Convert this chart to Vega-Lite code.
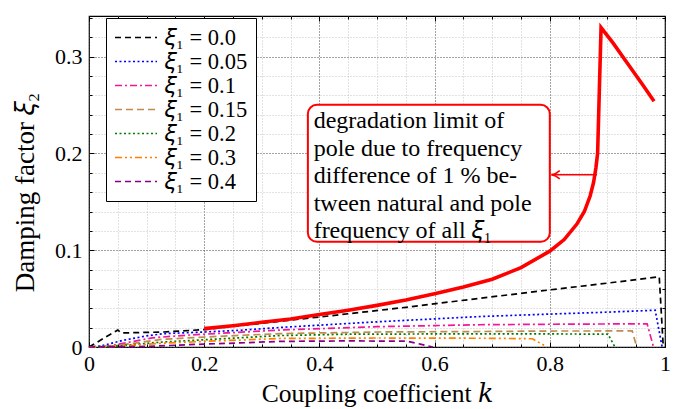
{
  "$schema": "https://vega.github.io/schema/vega-lite/v6.json",
  "autosize": "none",
  "width": 576,
  "height": 331,
  "padding": {"left": 89, "top": 16, "right": 21, "bottom": 62},
  "background": "white",
  "view": {"stroke": "black", "strokeWidth": 1.2},
  "config": {
    "font": "Liberation Serif, DejaVu Serif, serif",
    "axis": {"labelFont": "Liberation Serif, DejaVu Serif, serif", "titleFont": "Liberation Serif, DejaVu Serif, serif", "labelColor": "black", "titleColor": "black", "titleFontWeight": "normal", "tickColor": "black"},
    "legend": {
      "orient": "none", "legendX": 17, "legendY": 2,
      "strokeColor": "black", "fillColor": "white", "padding": 8,
      "labelFont": "Liberation Serif, DejaVu Serif, serif", "labelFontSize": 22.5, "labelColor": "black",
      "symbolSize": 441, "symbolStrokeWidth": 1.6,
      "rowPadding": 1, "labelOffset": 28, "title": null, "cornerRadius": 0
    }
  },
  "datasets": {
    "curves": [
      {"s": "𝜉₁ = 0.0", "x": 0.0, "y": 0.0},
      {"s": "𝜉₁ = 0.0", "x": 0.05, "y": 0.0176},
      {"s": "𝜉₁ = 0.0", "x": 0.056, "y": 0.0145},
      {"s": "𝜉₁ = 0.0", "x": 0.13, "y": 0.0155},
      {"s": "𝜉₁ = 0.0", "x": 0.2, "y": 0.018},
      {"s": "𝜉₁ = 0.0", "x": 0.3, "y": 0.0245},
      {"s": "𝜉₁ = 0.0", "x": 0.43, "y": 0.033},
      {"s": "𝜉₁ = 0.0", "x": 0.55, "y": 0.041},
      {"s": "𝜉₁ = 0.0", "x": 0.66, "y": 0.049},
      {"s": "𝜉₁ = 0.0", "x": 0.8, "y": 0.059},
      {"s": "𝜉₁ = 0.0", "x": 0.9, "y": 0.066},
      {"s": "𝜉₁ = 0.0", "x": 0.99, "y": 0.0725},
      {"s": "𝜉₁ = 0.0", "x": 0.997, "y": 0.0},
      {"s": "𝜉₁ = 0.05", "x": 0.0, "y": 0.0},
      {"s": "𝜉₁ = 0.05", "x": 0.02, "y": 0.001},
      {"s": "𝜉₁ = 0.05", "x": 0.06, "y": 0.007},
      {"s": "𝜉₁ = 0.05", "x": 0.1, "y": 0.0115},
      {"s": "𝜉₁ = 0.05", "x": 0.13, "y": 0.0138},
      {"s": "𝜉₁ = 0.05", "x": 0.2, "y": 0.0155},
      {"s": "𝜉₁ = 0.05", "x": 0.26, "y": 0.0172},
      {"s": "𝜉₁ = 0.05", "x": 0.34, "y": 0.0205},
      {"s": "𝜉₁ = 0.05", "x": 0.5, "y": 0.026},
      {"s": "𝜉₁ = 0.05", "x": 0.68, "y": 0.0315},
      {"s": "𝜉₁ = 0.05", "x": 0.8, "y": 0.034},
      {"s": "𝜉₁ = 0.05", "x": 0.9, "y": 0.036},
      {"s": "𝜉₁ = 0.05", "x": 0.983, "y": 0.038},
      {"s": "𝜉₁ = 0.05", "x": 0.995, "y": 0.0},
      {"s": "𝜉₁ = 0.1", "x": 0.0, "y": 0.0},
      {"s": "𝜉₁ = 0.1", "x": 0.033, "y": 0.001},
      {"s": "𝜉₁ = 0.1", "x": 0.07, "y": 0.005},
      {"s": "𝜉₁ = 0.1", "x": 0.11, "y": 0.0095},
      {"s": "𝜉₁ = 0.1", "x": 0.17, "y": 0.0122},
      {"s": "𝜉₁ = 0.1", "x": 0.24, "y": 0.0145},
      {"s": "𝜉₁ = 0.1", "x": 0.33, "y": 0.0175},
      {"s": "𝜉₁ = 0.1", "x": 0.5, "y": 0.021},
      {"s": "𝜉₁ = 0.1", "x": 0.68, "y": 0.023},
      {"s": "𝜉₁ = 0.1", "x": 0.8, "y": 0.0235},
      {"s": "𝜉₁ = 0.1", "x": 0.9, "y": 0.0238},
      {"s": "𝜉₁ = 0.1", "x": 0.969, "y": 0.024},
      {"s": "𝜉₁ = 0.1", "x": 0.98, "y": 0.0},
      {"s": "𝜉₁ = 0.15", "x": 0.0, "y": 0.0},
      {"s": "𝜉₁ = 0.15", "x": 0.042, "y": 0.001},
      {"s": "𝜉₁ = 0.15", "x": 0.08, "y": 0.004},
      {"s": "𝜉₁ = 0.15", "x": 0.125, "y": 0.0078},
      {"s": "𝜉₁ = 0.15", "x": 0.2, "y": 0.0103},
      {"s": "𝜉₁ = 0.15", "x": 0.262, "y": 0.012},
      {"s": "𝜉₁ = 0.15", "x": 0.33, "y": 0.0138},
      {"s": "𝜉₁ = 0.15", "x": 0.5, "y": 0.0155},
      {"s": "𝜉₁ = 0.15", "x": 0.68, "y": 0.016},
      {"s": "𝜉₁ = 0.15", "x": 0.8, "y": 0.0165},
      {"s": "𝜉₁ = 0.15", "x": 0.943, "y": 0.0166},
      {"s": "𝜉₁ = 0.15", "x": 0.951, "y": 0.0},
      {"s": "𝜉₁ = 0.2", "x": 0.0, "y": 0.0},
      {"s": "𝜉₁ = 0.2", "x": 0.05, "y": 0.001},
      {"s": "𝜉₁ = 0.2", "x": 0.123, "y": 0.005},
      {"s": "𝜉₁ = 0.2", "x": 0.2, "y": 0.0075},
      {"s": "𝜉₁ = 0.2", "x": 0.262, "y": 0.0095},
      {"s": "𝜉₁ = 0.2", "x": 0.33, "y": 0.0118},
      {"s": "𝜉₁ = 0.2", "x": 0.45, "y": 0.0132},
      {"s": "𝜉₁ = 0.2", "x": 0.6, "y": 0.0135},
      {"s": "𝜉₁ = 0.2", "x": 0.8, "y": 0.0135},
      {"s": "𝜉₁ = 0.2", "x": 0.901, "y": 0.0133},
      {"s": "𝜉₁ = 0.2", "x": 0.913, "y": 0.0},
      {"s": "𝜉₁ = 0.3", "x": 0.0, "y": 0.0},
      {"s": "𝜉₁ = 0.3", "x": 0.05, "y": 0.0007},
      {"s": "𝜉₁ = 0.3", "x": 0.13, "y": 0.004},
      {"s": "𝜉₁ = 0.3", "x": 0.2, "y": 0.0058},
      {"s": "𝜉₁ = 0.3", "x": 0.262, "y": 0.0072},
      {"s": "𝜉₁ = 0.3", "x": 0.33, "y": 0.0088},
      {"s": "𝜉₁ = 0.3", "x": 0.5, "y": 0.0093},
      {"s": "𝜉₁ = 0.3", "x": 0.7, "y": 0.009},
      {"s": "𝜉₁ = 0.3", "x": 0.77, "y": 0.0085},
      {"s": "𝜉₁ = 0.3", "x": 0.795, "y": 0.0},
      {"s": "𝜉₁ = 0.4", "x": 0.0, "y": 0.0},
      {"s": "𝜉₁ = 0.4", "x": 0.1, "y": 0.0006},
      {"s": "𝜉₁ = 0.4", "x": 0.2, "y": 0.003},
      {"s": "𝜉₁ = 0.4", "x": 0.262, "y": 0.0042},
      {"s": "𝜉₁ = 0.4", "x": 0.33, "y": 0.0058},
      {"s": "𝜉₁ = 0.4", "x": 0.45, "y": 0.0063},
      {"s": "𝜉₁ = 0.4", "x": 0.552, "y": 0.006},
      {"s": "𝜉₁ = 0.4", "x": 0.575, "y": 0.003},
      {"s": "𝜉₁ = 0.4", "x": 0.597, "y": 0.0}
    ],
    "limit": [
      {"x": 0.2, "y": 0.019},
      {"x": 0.25, "y": 0.022},
      {"x": 0.3, "y": 0.0255},
      {"x": 0.35, "y": 0.029},
      {"x": 0.4, "y": 0.0335},
      {"x": 0.45, "y": 0.038},
      {"x": 0.5, "y": 0.043},
      {"x": 0.55, "y": 0.0485},
      {"x": 0.6, "y": 0.055},
      {"x": 0.65, "y": 0.062},
      {"x": 0.7, "y": 0.07},
      {"x": 0.75, "y": 0.082},
      {"x": 0.8, "y": 0.099},
      {"x": 0.825, "y": 0.111},
      {"x": 0.847, "y": 0.127},
      {"x": 0.86, "y": 0.14},
      {"x": 0.87, "y": 0.156},
      {"x": 0.876, "y": 0.17},
      {"x": 0.88, "y": 0.185},
      {"x": 0.883, "y": 0.2},
      {"x": 0.889, "y": 0.33},
      {"x": 0.91, "y": 0.314},
      {"x": 0.935, "y": 0.293},
      {"x": 0.96, "y": 0.272},
      {"x": 0.981, "y": 0.254}
    ],
    "box": [{"x1": 0.38, "x2": 0.8, "y1": 0.1087, "y2": 0.2502}],
    "note": [{"x": 0.39, "y": 0.2458, "t": "degradation limit of\npole due to frequency\ndifference of 1 % be-\ntween natural and pole\nfrequency of all 𝜉₁"}],
    "arrow": [{"x1": 0.803, "x2": 0.882, "y": 0.178}],
    "head": [{"x": 0.81, "y": 0.178}]
  },
  "data": {"name": "curves"},
  "resolve": {"axis": {"x": "independent", "y": "independent"}},
  "layer": [
    {
      "mark": {"type": "point", "opacity": 0},
      "encoding": {
        "x": {"field": "x", "type": "quantitative", "scale": {"domain": [0, 1], "nice": false, "zero": false},
          "axis": {"orient": "bottom", "values": [0.05, 0.1, 0.15, 0.25, 0.3, 0.35, 0.45, 0.5, 0.55, 0.65, 0.7, 0.75, 0.85, 0.9, 0.95], "grid": true, "gridColor": "#c4c4c4", "gridDash": [1, 2], "gridWidth": 1, "ticks": true, "tickSize": -3, "labels": false, "domain": false, "title": null, "zindex": 0}},
        "y": {"field": "y", "type": "quantitative", "scale": {"domain": [0, 0.342], "nice": false, "zero": false},
          "axis": {"orient": "left", "values": [0.02, 0.04, 0.06, 0.08, 0.12, 0.14, 0.16, 0.18, 0.22, 0.24, 0.26, 0.28, 0.32, 0.34], "grid": true, "gridColor": "#c4c4c4", "gridDash": [1, 2], "gridWidth": 1, "ticks": true, "tickSize": -3, "labels": false, "domain": false, "title": null, "zindex": 0}}
      }
    },
    {
      "mark": {"type": "point", "opacity": 0},
      "encoding": {
        "x": {"field": "x", "type": "quantitative",
          "axis": {"orient": "bottom", "values": [0, 0.2, 0.4, 0.6, 0.8, 1], "format": "~g", "grid": true, "gridColor": "#444444", "gridDash": [1, 2], "gridWidth": 1, "ticks": true, "tickSize": -5, "labelPadding": 11, "labelFontSize": 22, "labelFlush": false, "domain": false, "title": "Coupling coefficient 𝑘", "titleFontSize": 25.5, "titlePadding": 7, "zindex": 0}},
        "y": {"field": "y", "type": "quantitative",
          "axis": {"orient": "left", "values": [0, 0.1, 0.2, 0.3], "format": "~g", "grid": true, "gridColor": "#444444", "gridDash": [1, 2], "gridWidth": 1, "ticks": true, "tickSize": -5, "labelPadding": 12, "labelFontSize": 22, "labelFlush": false, "domain": false, "title": "Damping factor 𝜉₂", "titleFontSize": 27, "titlePadding": 15, "titleY": 176, "zindex": 0}}
      }
    },
    {
      "mark": {"type": "point", "opacity": 0},
      "encoding": {
        "x": {"field": "x", "type": "quantitative",
          "axis": {"orient": "top", "values": [0, 0.2, 0.4, 0.6, 0.8, 1], "grid": false, "ticks": true, "tickSize": -5, "labels": false, "domain": false, "title": null}},
        "y": {"field": "y", "type": "quantitative",
          "axis": {"orient": "right", "values": [0, 0.1, 0.2, 0.3], "grid": false, "ticks": true, "tickSize": -5, "labels": false, "domain": false, "title": null}}
      }
    },
    {
      "mark": {"type": "point", "opacity": 0},
      "encoding": {
        "x": {"field": "x", "type": "quantitative",
          "axis": {"orient": "top", "values": [0.05, 0.1, 0.15, 0.25, 0.3, 0.35, 0.45, 0.5, 0.55, 0.65, 0.7, 0.75, 0.85, 0.9, 0.95], "grid": false, "ticks": true, "tickSize": -3, "labels": false, "domain": false, "title": null}},
        "y": {"field": "y", "type": "quantitative",
          "axis": {"orient": "right", "values": [0.02, 0.04, 0.06, 0.08, 0.12, 0.14, 0.16, 0.18, 0.22, 0.24, 0.26, 0.28, 0.32, 0.34], "grid": false, "ticks": true, "tickSize": -3, "labels": false, "domain": false, "title": null}}
      }
    },
    {
      "mark": {"type": "line", "strokeWidth": 1.7, "strokeCap": "butt"},
      "encoding": {
        "x": {"field": "x", "type": "quantitative", "axis": null},
        "y": {"field": "y", "type": "quantitative", "axis": null},
        "color": {"field": "s", "type": "nominal",
          "scale": {"domain": ["𝜉₁ = 0.0", "𝜉₁ = 0.05", "𝜉₁ = 0.1", "𝜉₁ = 0.15", "𝜉₁ = 0.2", "𝜉₁ = 0.3", "𝜉₁ = 0.4"],
                    "range": ["#000000", "#0000ff", "#f0189a", "#c4894e", "#007a00", "#ff8000", "#880088"]},
          "legend": {"symbolType": "M-1,0L3,0"}},
        "strokeDash": {"field": "s", "type": "nominal",
          "scale": {"domain": ["𝜉₁ = 0.0", "𝜉₁ = 0.05", "𝜉₁ = 0.1", "𝜉₁ = 0.15", "𝜉₁ = 0.2", "𝜉₁ = 0.3", "𝜉₁ = 0.4"],
                    "range": [[6, 4], [2, 2.5], [7, 3, 2, 3], [7, 4], [2, 2.5], [7, 3, 2, 3, 2, 3], [6, 4]]},
          "legend": {"symbolType": "M-1,0L3,0"}}
      }
    },
    {
      "data": {"name": "limit"},
      "mark": {"type": "line", "color": "#ff0000", "strokeWidth": 3.6, "strokeJoin": "miter"},
      "encoding": {
        "x": {"field": "x", "type": "quantitative", "axis": null},
        "y": {"field": "y", "type": "quantitative", "axis": null}
      }
    },
    {
      "data": {"name": "box"},
      "mark": {"type": "rect", "fill": "white", "stroke": "#ff0000", "strokeWidth": 2, "cornerRadius": 9},
      "encoding": {
        "x": {"field": "x1", "type": "quantitative", "axis": null},
        "x2": {"field": "x2"},
        "y": {"field": "y1", "type": "quantitative", "axis": null},
        "y2": {"field": "y2"}
      }
    },
    {
      "data": {"name": "note"},
      "mark": {"type": "text", "align": "left", "baseline": "top", "font": "Liberation Serif, DejaVu Serif, serif", "fontSize": 24, "lineHeight": 27.5, "lineBreak": "\n", "color": "black"},
      "encoding": {
        "x": {"field": "x", "type": "quantitative", "axis": null},
        "y": {"field": "y", "type": "quantitative", "axis": null},
        "text": {"field": "t"}
      }
    },
    {
      "data": {"name": "arrow"},
      "mark": {"type": "rule", "color": "#ff0000", "strokeWidth": 1.6},
      "encoding": {
        "x": {"field": "x1", "type": "quantitative", "axis": null},
        "x2": {"field": "x2"},
        "y": {"field": "y", "type": "quantitative", "axis": null}
      }
    },
    {
      "data": {"name": "head"},
      "mark": {"type": "point", "shape": "M1,-1 Q0,-0.1 -1,0 Q0,0.1 1,1", "filled": false, "stroke": "#ff0000", "strokeWidth": 1.6, "size": 70, "opacity": 1},
      "encoding": {
        "x": {"field": "x", "type": "quantitative", "axis": null},
        "y": {"field": "y", "type": "quantitative", "axis": null}
      }
    }
  ]
}
